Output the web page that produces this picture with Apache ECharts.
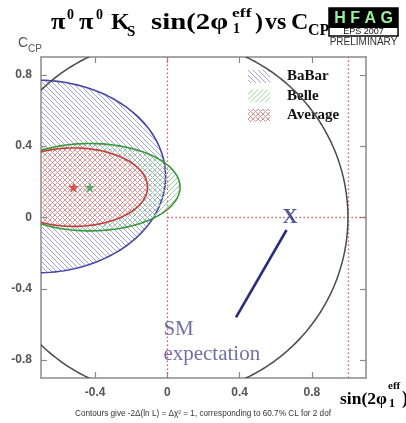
<!DOCTYPE html>
<html><head><meta charset="utf-8">
<script src="https://cdn.jsdelivr.net/npm/echarts@6/dist/echarts.min.js"></script>
<style>html,body{margin:0;padding:0;background:#fff}#c{width:406px;height:423px}</style>
</head><body><div id="c"></div>
<script>
// ---- data ----
const seriesNames = ['BaBar', 'Belle', 'Average'];
const centerS = [-0.72, -0.43, -0.52];
const centerC = [0.23, 0.17, 0.17];
const errS = [0.71, 0.50, 0.41];
const errC = [0.54, 0.245, 0.22];
const xTicks = [-0.4, 0, 0.4, 0.8];
const yTicks = [-0.8, -0.4, 0, 0.4, 0.8];
const xRange = [-0.7, 1.1];
const yRange = [-0.9, 0.9];
const unitCircle = [0, 0, 1];
const smPoint = [0.68, 0.0];
const smLabelPos = [-0.025, -0.70];
const arrowFrom = [0.38, -0.56];
const arrowTo = [0.66, -0.07];
const refX = [0, 1];
const refY = [0];

// ---- patterns ----
function hatch(color, dirs, s) {
  const c = document.createElement('canvas'); c.width = s; c.height = s;
  const g = c.getContext('2d'); g.strokeStyle = color; g.lineWidth = 1;
  dirs.forEach(d => {
    for (let k = -1; k <= 1; k++) {
      g.beginPath();
      if (d === '\\') { g.moveTo(k * s, 0); g.lineTo(k * s + s, s); }
      else { g.moveTo(k * s, s); g.lineTo(k * s + s, 0); }
      g.stroke();
    }
  });
  return { image: c, repeat: 'repeat' };
}
const fills = [hatch('#a2a2d8', ['\\'], 5), hatch('#98cc98', ['/'], 5), hatch('#dc9494', ['\\', '/'], 5)];
const strokes = ['#4646a8', '#38983c', '#c23c3c'];
const starColors = ['#4646a8', '#2f9e4f', '#d02a2a'];

function ellipseSeries(i) {
  return {
    type: 'custom', name: seriesNames[i], clip: true, z: 2 + i,
    data: [[centerS[i], centerC[i], errS[i], errC[i]]],
    itemStyle: { color: fills[i] },
    renderItem: (params, api) => {
      const cx = api.value(0), cy = api.value(1), rx = api.value(2), ry = api.value(3);
      const pts = [];
      for (let a = 0; a < 360; a += 2) {
        const t = a * Math.PI / 180;
        pts.push(api.coord([cx + rx * Math.cos(t), cy + ry * Math.sin(t)]));
      }
      return { type: 'polygon', shape: { points: pts }, style: { fill: fills[i], stroke: strokes[i], lineWidth: 1.6 } };
    }
  };
}

// ---- text helpers ----
function piece(t, x, base, size, o) {
  o = o || {};
  const fam = o.family || '"Liberation Serif", serif';
  return { type: 'text', x: x, y: base - 0.34 * size, scaleX: o.sx || 1, z: 100,
    style: { text: t, x: 0, y: 0, font: (o.weight || 'bold') + ' ' + size + 'px ' + fam,
      fill: o.fill || '#000', align: o.align || 'left', verticalAlign: 'middle' } };
}
const sans = '"Liberation Sans", Arial, sans-serif';
const graphics = [
  piece('π', 51, 31, 24, { sx: 1.1 }), piece('0', 67, 20, 14), piece('π', 79, 31, 24, { sx: 1.1 }), piece('0', 96, 20, 14),
  piece('K', 111, 31, 24), piece('S', 127, 37, 15), piece('sin(2φ', 151, 31, 24, { sx: 1.2 }),
  piece('1', 233, 34, 14), piece('eff', 232, 18, 13, { sx: 1.35 }), piece(')', 255, 31, 24), piece('vs', 265, 31, 24),
  piece('C', 291, 31, 24), piece('CP', 308, 36, 16),
  // HFAG logo
  { type: 'rect', shape: { x: 329, y: 8, width: 69, height: 28 }, style: { fill: '#fff', stroke: '#000', lineWidth: 1.5 }, z: 99 },
  { type: 'rect', shape: { x: 329, y: 8, width: 69, height: 20 }, style: { fill: '#000' }, z: 99 },
  piece('H F A G', 363.5, 24, 16, { family: sans, fill: '#9cf09c', align: 'center' }),
  piece('EPS 2007', 363.5, 35, 9, { family: sans, weight: 'normal', fill: '#111', align: 'center' }),
  piece('PRELIMINARY', 363.5, 46, 10, { family: sans, weight: 'normal', fill: '#333', align: 'center' }),
  // axis names
  piece('C', 18, 48, 14, { family: sans, weight: 'normal', fill: '#555' }),
  piece('CP', 28, 53, 10, { family: sans, weight: 'normal', fill: '#555' }),
  piece('sin(2φ', 340, 405, 17.5), piece('eff', 388, 390, 11), piece('1', 389, 408, 12), piece(')', 402, 405, 18),
  // footnote
  piece('Contours give -2Δ(ln L) = Δχ² = 1, corresponding to 60.7% CL for 2 dof', 203, 417, 8.2,
    { family: sans, weight: 'normal', fill: '#333', align: 'center' })
];

const axisLineS = { show: true, onZero: false, lineStyle: { color: '#8a8a8a', width: 1.5 } };
function axTick(vals) { return { show: true, inside: true, length: 6, customValues: vals, lineStyle: { color: '#8a8a8a', width: 1.2 } }; }
function axLabel(vals, show, margin) {
  return { show: show, customValues: vals, color: '#555', fontFamily: sans, fontWeight: 'bold', fontSize: 12, margin: margin };
}

const chart = echarts.init(document.getElementById('c'));
chart.setOption({
  animation: false,
  backgroundColor: '#fff',
  grid: { left: 41, top: 57, width: 325, height: 321 },
  xAxis: [
    { type: 'value', min: xRange[0], max: xRange[1], position: 'bottom', axisLine: axisLineS, axisTick: axTick(xTicks), axisLabel: axLabel(xTicks, true, 9), splitLine: { show: false } },
    { type: 'value', min: xRange[0], max: xRange[1], position: 'top', axisLine: axisLineS, axisTick: axTick(xTicks), axisLabel: { show: false }, splitLine: { show: false } }
  ],
  yAxis: [
    { type: 'value', min: yRange[0], max: yRange[1], position: 'left', axisLine: axisLineS, axisTick: axTick(yTicks), axisLabel: axLabel(yTicks, true, 9), splitLine: { show: false } },
    { type: 'value', min: yRange[0], max: yRange[1], position: 'right', axisLine: axisLineS, axisTick: axTick(yTicks), axisLabel: { show: false }, splitLine: { show: false } }
  ],
  legend: {
    left: 248, top: 69, padding: 0, orient: 'vertical', itemWidth: 22, itemHeight: 13, itemGap: 4.5, icon: 'rect',
    data: seriesNames.map((n, i) => ({ name: n, itemStyle: { color: fills[i], borderWidth: 0 } })),
    textStyle: { fontFamily: '"Liberation Serif", serif', fontWeight: 'bold', fontSize: 15, color: '#111', padding: [0, 0, 0, 12] },
    selectedMode: false
  },
  graphic: graphics,
  series: [
    ellipseSeries(0), ellipseSeries(1), ellipseSeries(2),
    {
      type: 'custom', name: 'circle', clip: true, z: 6, data: [unitCircle],
      renderItem: (params, api) => {
        const cx = api.value(0), cy = api.value(1), r = api.value(2);
        const pts = [];
        for (let a = 0; a <= 360; a += 1) {
          const t = a * Math.PI / 180;
          pts.push(api.coord([cx + r * Math.cos(t), cy + r * Math.sin(t)]));
        }
        return { type: 'polyline', shape: { points: pts }, style: { fill: null, stroke: '#4a4a4a', lineWidth: 1.5 } };
      }
    },
    {
      type: 'line', name: 'ref', data: [], z: 7, silent: true,
      markLine: {
        silent: true, symbol: 'none', label: { show: false },
        lineStyle: { color: '#d05a5a', type: [1.5, 2.5], width: 1.3 },
        data: [{ xAxis: refX[0] }, { xAxis: refX[1] }, [{ coord: [refX[0], refY[0]] }, { coord: [xRange[1], refY[0]] }]]
      }
    },
    {
      type: 'line', name: 'arrow', data: [], z: 8, silent: true,
      markLine: {
        silent: true, symbol: ['none', 'arrow'], symbolSize: [0, 10], label: { show: false },
        lineStyle: { color: '#2c2c7c', type: 'solid', width: 2.6 },
        data: [[{ coord: arrowFrom }, { coord: arrowTo }]]
      }
    },
    {
      type: 'scatter', name: 'stars', z: 9, symbol: 'path://M50,0 L61,35 L98,35 L68,57 L79,91 L50,70 L21,91 L32,57 L2,35 L39,35 Z',
      symbolSize: 11, clip: true,
      data: centerS.map((s, i) => ({ value: [s, centerC[i]], itemStyle: { color: starColors[i] } }))
    },
    {
      type: 'scatter', name: 'sm', z: 10, symbolSize: 1, itemStyle: { color: 'rgba(0,0,0,0)' }, silent: true,
      data: [{ value: smPoint, label: { show: true, formatter: 'X', position: 'inside', fontFamily: '"Liberation Serif", serif', fontWeight: 'bold', fontSize: 21, color: '#2a2a80' } },
             { value: smLabelPos, label: { show: true, formatter: 'SM\nexpectation', position: 'right', distance: 0, align: 'left', fontFamily: '"Liberation Serif", serif', fontSize: 21, lineHeight: 25, color: '#4c4c8e' } }]
    }
  ]
});
</script></body></html>
